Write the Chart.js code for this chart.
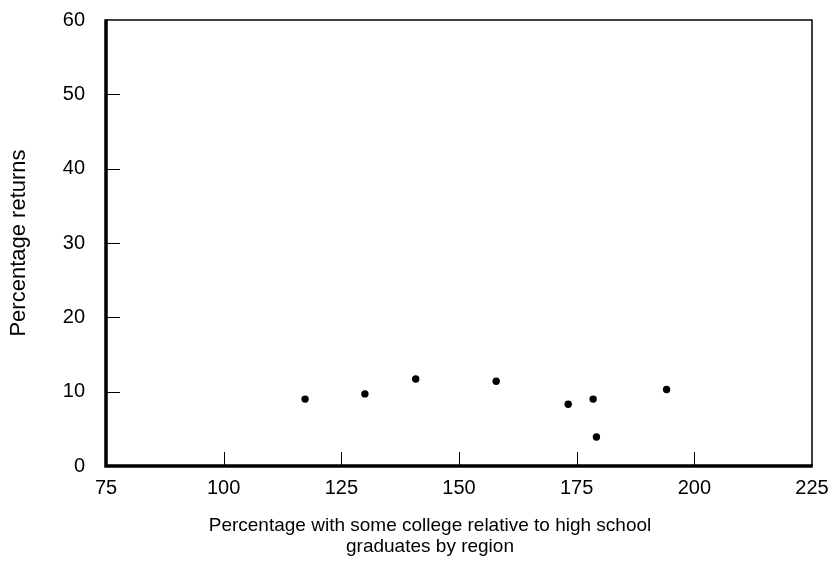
<!DOCTYPE html>
<html>
<head>
<meta charset="utf-8">
<script src="https://cdn.jsdelivr.net/npm/chart.js@4.4.1/dist/chart.umd.min.js"></script>
<style>
  html, body { margin: 0; padding: 0; background: #fff; }
  #wrap { width: 831px; height: 564px; position: relative; }
</style>
</head>
<body>
<div id="wrap"><canvas id="c" width="831" height="564"></canvas></div>
<script>
const collegeRelative = [117.3, 130.0, 140.8, 157.9, 173.2, 178.5, 179.2, 194.1];
const percentReturns = [9.0, 9.7, 11.7, 11.4, 8.3, 9.0, 3.9, 10.3];
const xTickValues = [75, 100, 125, 150, 175, 200, 225];
const yTickValues = [0, 10, 20, 30, 40, 50, 60];
const xTitle = ["Percentage with some college relative to high school", "graduates by region"];
const yTitle = "Percentage returns";

const points = collegeRelative.map((x, i) => ({ x: x, y: percentReturns[i] }));
const FONT = 'Liberation Sans, Arial, sans-serif';

const framePlugin = {
  id: 'frame',
  afterDatasetsDraw(chart) {
    const { ctx, chartArea: a, scales } = chart;
    ctx.save();
    ctx.strokeStyle = '#000';
    // inward tick marks
    ctx.lineWidth = 1;
    scales.x.ticks.forEach(t => {
      const px = Math.round(scales.x.getPixelForValue(t.value)) + 0.5;
      if (t.value <= 75 || t.value >= 225) return;
      ctx.beginPath(); ctx.moveTo(px, a.bottom); ctx.lineTo(px, a.bottom - 14); ctx.stroke();
    });
    scales.y.ticks.forEach(t => {
      const py = Math.round(scales.y.getPixelForValue(t.value)) + 0.5;
      if (t.value <= 0 || t.value >= 60) return;
      ctx.beginPath(); ctx.moveTo(a.left, py); ctx.lineTo(a.left + 14, py); ctx.stroke();
    });
    // top and right thin border
    ctx.lineWidth = 1.5;
    ctx.beginPath();
    ctx.moveTo(a.left, a.top); ctx.lineTo(a.right, a.top); ctx.lineTo(a.right, a.bottom);
    ctx.stroke();
    // left and bottom thick border
    ctx.lineWidth = 3.5;
    ctx.beginPath();
    ctx.moveTo(a.left, a.top - 0.75); ctx.lineTo(a.left, a.bottom); ctx.lineTo(a.right + 0.75, a.bottom);
    ctx.stroke();
    // x axis title (two lines, centred as in the original figure)
    ctx.fillStyle = '#000';
    ctx.font = '19px ' + FONT;
    ctx.textAlign = 'center';
    ctx.textBaseline = 'middle';
    ctx.fillText(xTitle[0], 430, 526);
    ctx.fillText(xTitle[1], 430, 547);
    ctx.restore();
  }
};

new Chart(document.getElementById('c'), {
  type: 'scatter',
  data: {
    datasets: [{
      data: points,
      backgroundColor: '#000',
      borderColor: '#000',
      pointRadius: 3.7,
      pointHoverRadius: 3.7,
      borderWidth: 0
    }]
  },
  options: {
    responsive: false,
    animation: false,
    events: [],
    layout: { padding: { left: 0, top: 20, right: 19, bottom: 0 } },
    plugins: { legend: { display: false }, tooltip: { enabled: false } },
    scales: {
      x: {
        type: 'linear',
        min: 75, max: 225,
        afterBuildTicks(s) { s.ticks = xTickValues.map(v => ({ value: v })); },
        afterFit(s) { s.height = 98; s.paddingLeft = 0; s.paddingRight = 0; },
        grid: { display: false, drawTicks: false },
        border: { display: false },
        ticks: { color: '#000', font: { family: FONT, size: 20 }, padding: 10, maxRotation: 0 },
        title: { display: false }
      },
      y: {
        type: 'linear',
        min: 0, max: 60,
        afterBuildTicks(s) { s.ticks = yTickValues.map(v => ({ value: v })); },
        afterFit(s) { s.width = 106; s.paddingTop = 0; s.paddingBottom = 0; },
        grid: { display: false, drawTicks: false },
        border: { display: false },
        ticks: { color: '#000', font: { family: FONT, size: 20 }, padding: 21 },
        title: {
          display: true, text: yTitle, color: '#000',
          font: { family: FONT, size: 22 },
          padding: { top: 6, bottom: 0 }
        }
      }
    }
  },
  plugins: [framePlugin]
});
</script>
</body>
</html>
